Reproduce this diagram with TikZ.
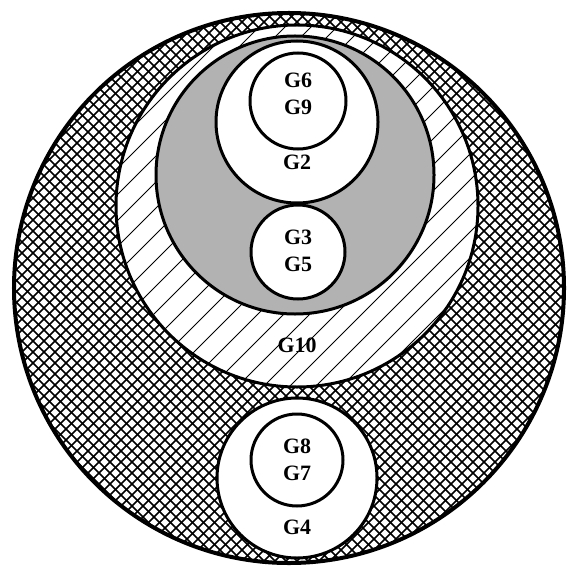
\documentclass[tikz,border=0pt]{standalone}
\usepackage{fontspec}
\setmainfont{Liberation Serif}
\definecolor{shadegray}{RGB}{178,178,178}
\tikzset{
  ring/.style={draw=black, line width=3bp},
  lbl/.style={font=\fontsize{22}{27}\selectfont\bfseries, align=center, inner sep=0pt},
  crossline/.style={line width=1.6bp},
  hatchline/.style={line width=1bp}
}

\begin{document}
\begin{tikzpicture}[x=1bp, y=-1bp]
  \useasboundingbox (0,0) rectangle (575,566);

  % centres of the sets
  \coordinate (outer) at (289,288);
  \coordinate (gten) at (297,206);
  \coordinate (gshade) at (295,175);
  \coordinate (gtwo) at (297,122);
  \coordinate (gsix) at (298,101);
  \coordinate (gthree) at (298,252);
  \coordinate (gfour) at (297,478);
  \coordinate (geight) at (297,460);

  % outer set, cross-hatched
  \fill[white] (outer) circle[radius=275bp];
  \begin{scope}
    \clip (outer) circle[radius=275bp];
    \foreach \i in {-605,-594,...,1200} {
      \draw[crossline] (\i,0) -- ++(600,600);
      \draw[crossline] (\i,0) -- ++(-600,600);
    }
  \end{scope}

  % G10, single hatching
  \fill[white] (gten) circle[radius=181bp];
  \begin{scope}
    \clip (gten) circle[radius=181bp];
    \foreach \i in {-600,-574,...,700} {
      \draw[hatchline] (\i,600) -- ++(600,-600);
    }
  \end{scope}

  % shaded set
  \fill[shadegray] (gshade) circle[radius=139bp];

  % white sets
  \fill[white] (gtwo) circle[radius=81bp];
  \fill[white] (gthree) circle[radius=47bp];
  \fill[white] (gfour) circle[radius=80bp];

  % outlines
  \draw[ring, line width=4bp] (outer) circle[radius=275bp];
  \draw[ring] (gten) circle[radius=181bp];
  \draw[ring] (gshade) circle[radius=139bp];
  \draw[ring] (gtwo) circle[radius=81bp];
  \draw[ring] (gsix) circle[radius=48bp];
  \draw[ring] (gthree) circle[radius=47bp];
  \draw[ring] (gfour) circle[radius=80bp];
  \draw[ring] (geight) circle[radius=46bp];

  % labels
  \node[lbl] (g6g9) at (298,94) {G6\\G9};
  \node[lbl] (g2) at (297,162) {G2};
  \node[lbl] (g3g5) at (298,251) {G3\\G5};
  \node[lbl] (g10) at (297,345) {G10};
  \node[lbl] (g8g7) at (297,460) {G8\\G7};
  \node[lbl] (g4) at (297,527) {G4};
\end{tikzpicture}
\end{document}
